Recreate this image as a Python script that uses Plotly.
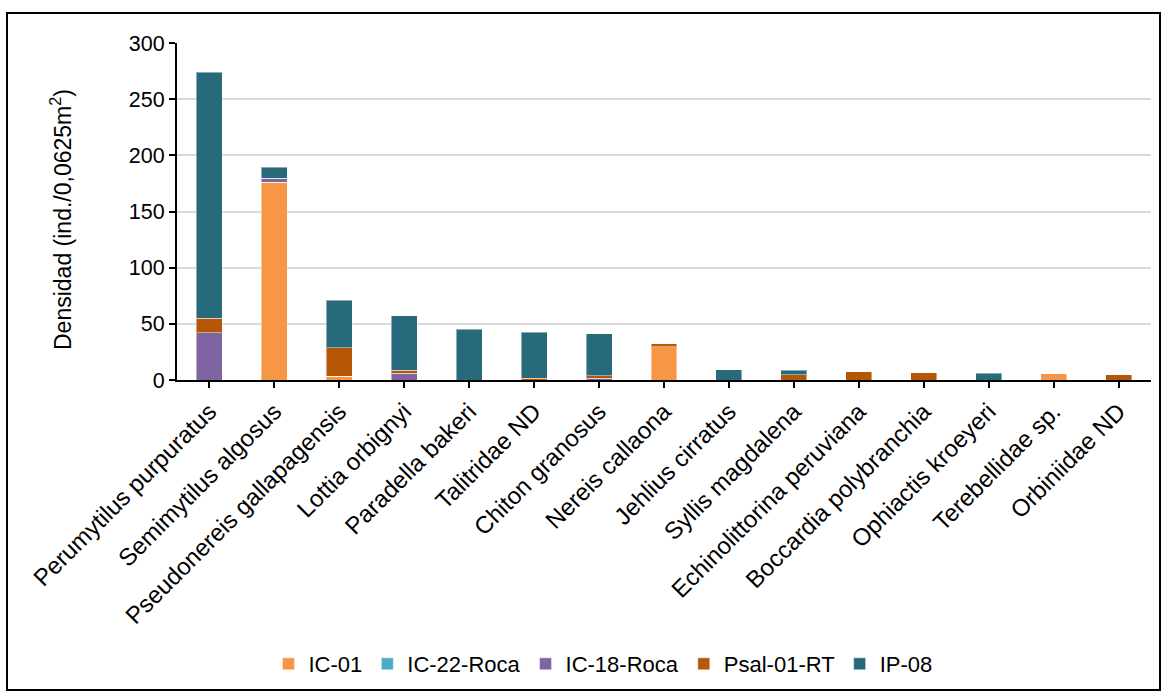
import plotly.graph_objects as go

categories = ["Perumytilus purpuratus", "Semimytilus algosus", "Pseudonereis gallapagensis",
              "Lottia orbignyi", "Paradella bakeri", "Talitridae ND", "Chiton granosus",
              "Nereis callaona", "Jehlius cirratus", "Syllis magdalena",
              "Echinolittorina peruviana", "Boccardia polybranchia", "Ophiactis kroeyeri",
              "Terebellidae sp.", "Orbiniidae ND"]

ic01 =     [0, 176, 3.5, 0, 0, 0, 0, 29.5, 0, 0, 0, 0, 0, 5.5, 0]
ic22 =     [0, 0, 0, 0, 0, 0, 0, 0, 0, 0, 0, 0, 0, 0, 0]
ic18 =     [42, 3.5, 0, 6, 0, 0, 1.5, 0, 0, 0, 0, 0, 0, 0, 0]
psal01 =   [13, 0, 25.3, 2.5, 0, 1.5, 2.5, 2.7, 0, 4.7, 7.3, 6.5, 0, 0, 4.5]
ip08 =     [219, 10, 42.4, 48.5, 45, 41, 37, 0, 9, 4.2, 0, 0, 6.2, 0, 0.4]

series = [("IC-01", ic01, "#F79646"),
          ("IC-22-Roca", ic22, "#4BACC6"),
          ("IC-18-Roca", ic18, "#8064A2"),
          ("Psal-01-RT", psal01, "#B65708"),
          ("IP-08", ip08, "#276A7C")]

fig = go.Figure()
for name, vals, color in series:
    fig.add_trace(go.Bar(x=categories, y=vals, name=name,
                         marker=dict(color=color, line=dict(color="rgba(255,255,255,0.45)", width=1))))

FONT = "Liberation Sans, Arial, sans-serif"
W, H = 1166, 695
L, R, T, B = 177, 15, 43, 315
pw, ph = W - L - R, H - T - B

def px(x):
    return (x - L) / pw

def py(y):
    return (H - B - y) / ph

fig.update_layout(
    width=W, height=H,
    barmode="stack", bargap=0.6,
    plot_bgcolor="white", paper_bgcolor="white",
    margin=dict(l=L, r=R, t=T, b=B, autoexpand=False),
    font=dict(family=FONT, size=22, color="#000000"),
    showlegend=True,
    legend=dict(orientation="h", x=px(603), y=py(664), xanchor="center", yanchor="middle",
                font=dict(family=FONT, size=22, color="#000000"), traceorder="normal",
                itemwidth=30, bgcolor="rgba(0,0,0,0)"),
    xaxis=dict(showline=True, linecolor="#000000", linewidth=2, ticks="outside",
               ticklen=6, tickcolor="#000000", tickwidth=2, tickangle=-45,
               tickfont=dict(family=FONT, size=24, color="#000000"), showgrid=False),
    yaxis=dict(range=[0, 300], dtick=50, showline=True, linecolor="#000000", linewidth=2,
               ticks="outside", ticklen=6, tickcolor="#000000", tickwidth=2,
               showgrid=True, gridcolor="#D9D9D9", gridwidth=2, zeroline=False,
               tickfont=dict(family=FONT, size=21.5, color="#000000")),
    annotations=[dict(text="Densidad (ind./0,0625m<sup>2</sup>)", textangle=-90,
                      x=px(61), y=py(220), xref="paper", yref="paper",
                      xanchor="center", yanchor="middle", showarrow=False,
                      font=dict(family=FONT, size=23, color="#000000"))],
    shapes=[dict(type="rect", xref="paper", yref="paper",
                 x0=px(7), x1=px(1160), y0=py(690), y1=py(13),
                 line=dict(color="#000000", width=2), fillcolor="rgba(0,0,0,0)", layer="below")],
)

fig.write_html("out.html", config={"displayModeBar": False},
               post_script="document.body.style.margin='0';")
